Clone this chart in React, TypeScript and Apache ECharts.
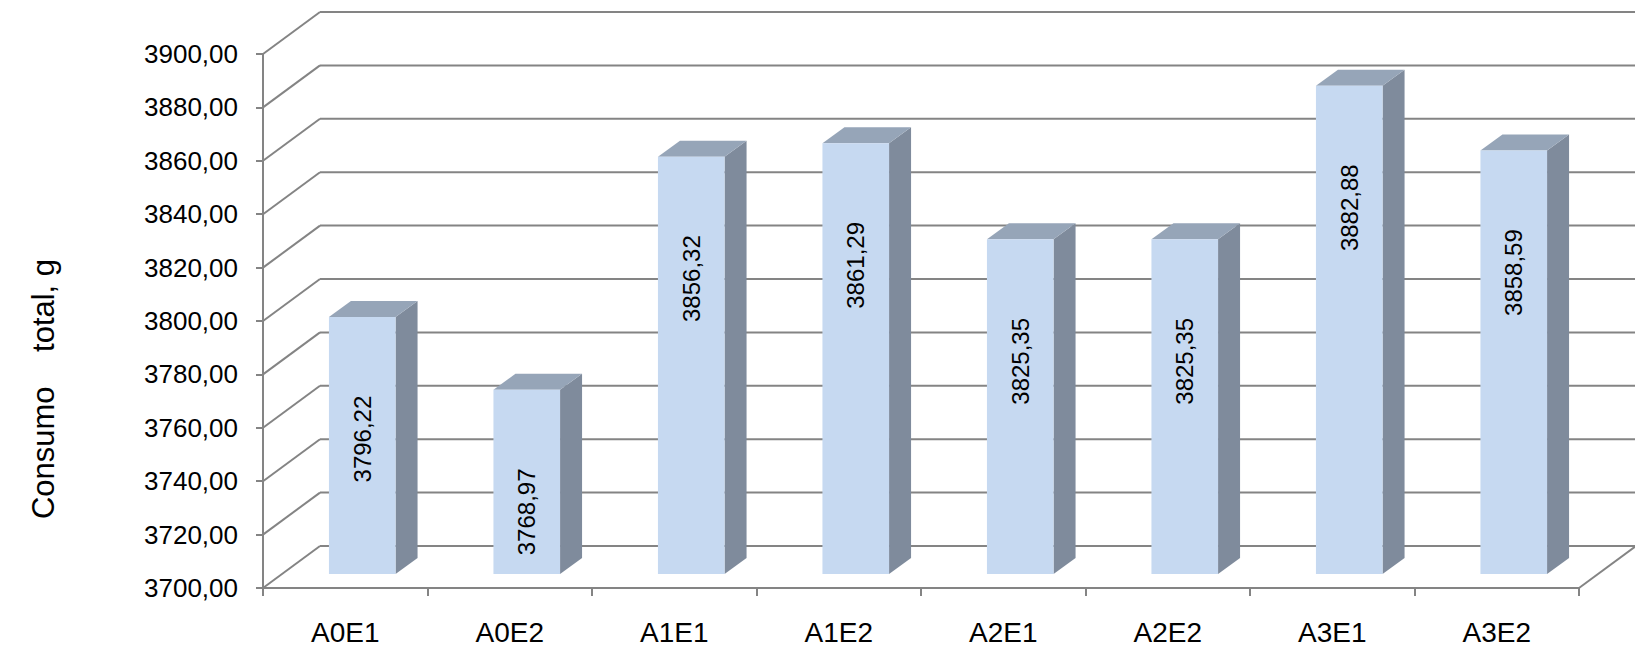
import React, { useEffect, useRef } from "react";
import * as echarts from "echarts";

const categories = ["A0E1", "A0E2", "A1E1", "A1E2", "A2E1", "A2E2", "A3E1", "A3E2"];
const consumo = [3796.22, 3768.97, 3856.32, 3861.29, 3825.35, 3825.35, 3882.88, 3858.59];
const yMin = 3700;
const yMax = 3900;
const yStep = 20;
const axisTitle = "Consumo    total, g";

const FONT = "'Liberation Sans', Arial, sans-serif";
const GRID = "#848484";
// wall depth (perspective offset)
const WDX = 57;
const WDY = -42;
// bar front offset and depth
const BFX = 17;
const BFY = -14;
const BDX = 22;
const BDY = -16;

const fmt = (v: number) => v.toFixed(2).replace(".", ",");

export default function App() {
  const ref = useRef<HTMLDivElement>(null);
  useEffect(() => {
    if (!ref.current) return;
    const chart = echarts.init(ref.current, undefined, { renderer: "svg" });
    const ticks: number[] = [];
    for (let v = yMin; v <= yMax + 1e-9; v += yStep) ticks.push(v);

    const option: any = {
      animation: false,
      backgroundColor: "#ffffff",
      grid: { left: 263, top: 54, width: 1316, height: 534 },
      xAxis: {
        type: "category",
        data: categories,
        axisLine: { show: true, lineStyle: { color: GRID, width: 2 } },
        axisTick: { show: true, length: 8, interval: 0, lineStyle: { color: GRID, width: 2 } },
        axisLabel: { color: "#000", fontSize: 28, fontFamily: FONT, margin: 30, interval: 0 },
        splitLine: { show: false },
      },
      yAxis: {
        type: "value",
        min: yMin,
        max: yMax,
        interval: yStep,
        axisLine: { show: true, lineStyle: { color: GRID, width: 2 } },
        axisTick: { show: true, length: 7, lineStyle: { color: GRID, width: 2 } },
        axisLabel: { color: "#000", fontSize: 26, fontFamily: FONT, margin: 25, formatter: (v: number) => fmt(v) },
        splitLine: { show: false },
      },
      graphic: [
        {
          type: "text",
          x: 43,
          y: 389,
          rotation: Math.PI / 2,
          style: {
            text: axisTitle,
            font: `31px ${FONT}`,
            fill: "#000",
            align: "center",
            verticalAlign: "middle",
          },
        },
      ],
      series: [
        {
          type: "custom",
          z: 1,
          silent: true,
          data: ticks.map((v) => [0, v]),
          encode: { x: 0, y: 1 },
          renderItem: (params: any, api: any) => {
            const cs = params.coordSys;
            const v = api.value(1);
            const y = api.coord([0, v])[1];
            const x0 = cs.x;
            const x1 = cs.x + cs.width;
            const ls = { stroke: GRID, lineWidth: 2, fill: "none" };
            const children: any[] = [
              { type: "line", shape: { x1: x0, y1: y, x2: x0 + WDX, y2: y + WDY }, style: ls },
              { type: "line", shape: { x1: x0 + WDX, y1: y + WDY, x2: x1 + WDX, y2: y + WDY }, style: ls },
            ];
            if (v === yMin) {
              children.push({ type: "line", shape: { x1: x1, y1: y, x2: x1 + WDX, y2: y + WDY }, style: ls });
            }
            return { type: "group", children };
          },
        },
        {
          type: "custom",
          z: 2,
          data: consumo.map((v, i) => [i, v]),
          encode: { x: 0, y: 1 },
          renderItem: (params: any, api: any) => {
            const idx = api.value(0);
            const val = api.value(1);
            const base = api.coord([idx, yMin]);
            const top = api.coord([idx, val]);
            const band = api.size([1, 0])[0];
            const fw = band * 0.405;
            const xl = base[0] - fw / 2 + BFX;
            const xr = xl + fw;
            const yb = base[1] + BFY;
            const yt = top[1] + BFY;
            return {
              type: "group",
              children: [
                {
                  type: "polygon",
                  shape: { points: [[xr, yb], [xr + BDX, yb + BDY], [xr + BDX, yt + BDY], [xr, yt]] },
                  style: { fill: "#7F8B9C" },
                },
                {
                  type: "polygon",
                  shape: { points: [[xl, yt], [xr, yt], [xr + BDX, yt + BDY], [xl + BDX, yt + BDY]] },
                  style: { fill: "#96A5B8" },
                },
                {
                  type: "rect",
                  shape: { x: xl, y: yt, width: fw, height: yb - yt },
                  style: { fill: "#C6D9F1" },
                },
                {
                  type: "text",
                  x: (xl + xr) / 2,
                  y: yt + 122,
                  rotation: Math.PI / 2,
                  style: {
                    text: fmt(val),
                    font: `24px ${FONT}`,
                    fill: "#000",
                    align: "center",
                    verticalAlign: "middle",
                  },
                },
              ],
            };
          },
        },
      ],
    };
    chart.setOption(option);
    return () => chart.dispose();
  }, []);
  return (
    <div
      ref={ref}
      style={{ position: "fixed", left: 0, top: 0, width: 1635, height: 647, background: "#fff" }}
    />
  );
}
